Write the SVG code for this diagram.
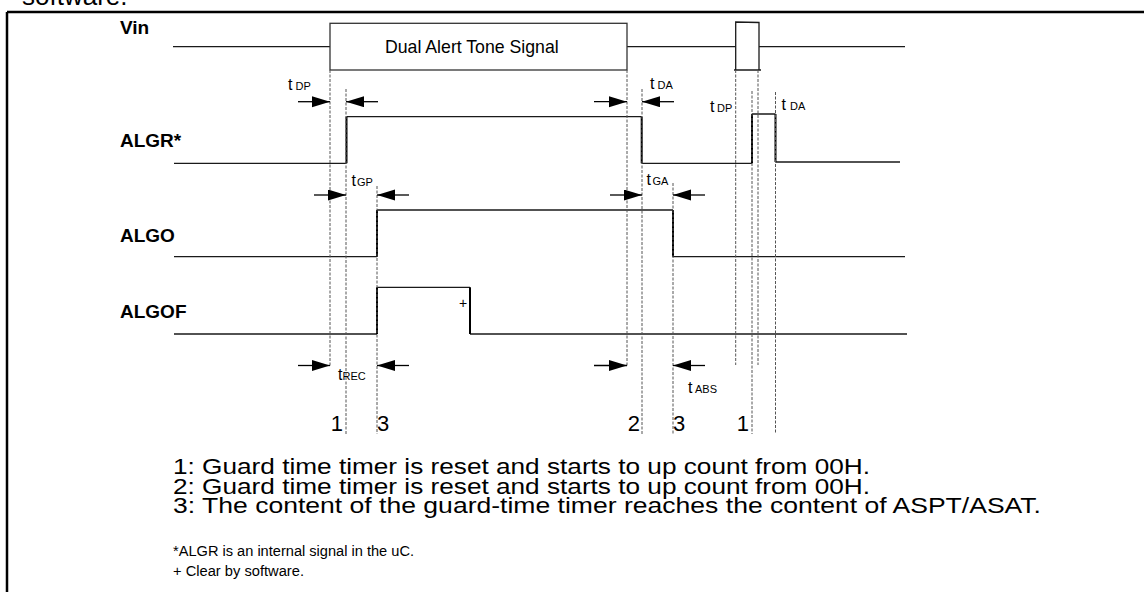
<svg xmlns="http://www.w3.org/2000/svg" width="1144" height="592" viewBox="0 0 1144 592">
<defs>
<marker id="ah" markerUnits="userSpaceOnUse" markerWidth="19" markerHeight="12" refX="18" refY="5.5" orient="auto">
<path d="M0,0 L18,5.5 L0,11 z" fill="#000"/>
</marker>
</defs>
<style>
.sig{fill:none;stroke:#1a1a1a;stroke-width:1.3}
.edge{fill:none;stroke:#000;stroke-width:2}
.dash{fill:none;stroke:#555;stroke-width:1;stroke-dasharray:3,1.5}
.arr{fill:none;stroke:#000;stroke-width:1.3;marker-end:url(#ah)}
.lbl{font-family:"Liberation Sans",Arial,sans-serif;font-weight:bold;font-size:19px;fill:#000}
.t{font-family:"Liberation Sans",Arial,sans-serif;font-size:16px;fill:#000}
.sub{font-size:11px}
.big{font-family:"Liberation Sans",Arial,sans-serif;font-size:26px;fill:#000}
.note{font-family:"Liberation Sans",Arial,sans-serif;font-size:22px;fill:#000}
.sm{font-family:"Liberation Sans",Arial,sans-serif;font-size:14px;fill:#000}
.box{font-family:"Liberation Sans",Arial,sans-serif;font-size:17.7px;fill:#000}
</style>
<rect width="1144" height="592" fill="#fff"/>
<text class="big" x="22" y="5">software.</text>
<path d="M7,12 H1144 M7,12 V592" fill="none" stroke="#000" stroke-width="2.5"/>

<g id="vin">
<text class="lbl" x="120" y="34">Vin</text>
<path class="sig" d="M173,46.7 H330 M627,46.7 H735.7 M759,46.7 H905"/>
<rect x="330" y="23.3" width="297" height="46.7" fill="none" stroke="#333" stroke-width="1.3"/>
<text class="box" x="385" y="52.7">Dual Alert Tone Signal</text>
<path class="sig" d="M735.7,70 V22 L759,22.5 V70 M734,70 H761"/>
</g>

<g id="algr">
<text class="lbl" x="120" y="147">ALGR*</text>
<path class="sig" d="M174,163.3 H346.5 M346.5,116.7 H641.7 M641.7,163.3 H752 M752,114 H775.5 M775.5,162 H900"/>
<path class="edge" d="M346.5,163.3 V116.7 M641.7,116.7 V163.3 M752,163.3 V114 M775.5,114 V162"/>
</g>

<g id="algo">
<text class="lbl" x="120" y="241.7">ALGO</text>
<path class="sig" d="M174,256.7 H377 M377,210 H673 M673,256.7 H905"/>
<path class="edge" d="M377,256.7 V210 M673,210 V256.7"/>
</g>

<g id="algof">
<text class="lbl" x="120" y="318.3">ALGOF</text>
<path class="sig" d="M174,334 H377 M377,287.3 H470 M470,334 H907"/>
<path class="edge" d="M377,334 V287.3 M470,287.3 V334"/>
<text class="sm" x="463" y="308" text-anchor="middle" font-size="13">+</text>
</g>

<g id="connectors">
<path class="dash" d="M330,70 V367 M346,89 V434 M377,186 V434 M627,70 V367 M642,89 V434 M673,183 V434 M735.7,70 V365 M752,91 V434 M758,70 V365 M775.5,92 V434"/>
<path class="arr" d="M298,101.7 H330"/>
<path class="arr" d="M378,101.7 H346"/>
<path class="arr" d="M594,101.7 H627"/>
<path class="arr" d="M674,101.7 H642"/>
<path class="arr" d="M314,195 H346"/>
<path class="arr" d="M409,195 H377"/>
<path class="arr" d="M610,195 H642"/>
<path class="arr" d="M705,195 H673"/>
<path class="arr" d="M298,365.5 H330"/>
<path class="arr" d="M409,365.5 H377"/>
<path class="arr" d="M594,365.5 H627"/>
<path class="arr" d="M705,365.5 H673"/>
</g>

<g id="timing-labels">
<text class="t" x="288" y="90">t<tspan class="sub" dx="3">DP</tspan></text>
<text class="t" x="650" y="89">t<tspan class="sub" dx="3">DA</tspan></text>
<text class="t" x="351.5" y="186">t<tspan class="sub" dx="1">GP</tspan></text>
<text class="t" x="646.5" y="185">t<tspan class="sub" dx="1.5">GA</tspan></text>
<text class="t" x="710" y="111.7">t<tspan class="sub" dx="2.5">DP</tspan></text>
<text class="t" x="781.5" y="110">t<tspan class="sub" dx="4">DA</tspan></text>
<text class="t" x="338" y="380">t<tspan class="sub" dx="0">REC</tspan></text>
<text class="t" x="688" y="393">t<tspan class="sub" dx="2.5">ABS</tspan></text>
</g>

<g id="markers">
<text class="note" x="343" y="431" text-anchor="end">1</text>
<text class="note" x="377" y="431">3</text>
<text class="note" x="640" y="431" text-anchor="end">2</text>
<text class="note" x="673" y="431">3</text>
<text class="note" x="749" y="431" text-anchor="end">1</text>
</g>

<g id="notes">
<text class="note" x="173" y="474" textLength="697" lengthAdjust="spacingAndGlyphs">1: Guard time timer is reset and starts to up count from 00H.</text>
<text class="note" x="173" y="493.5" textLength="697" lengthAdjust="spacingAndGlyphs">2: Guard time timer is reset and starts to up count from 00H.</text>
<text class="note" x="173" y="513" textLength="868" lengthAdjust="spacingAndGlyphs">3: The content of the guard-time timer reaches the content of ASPT/ASAT.</text>
<text class="sm" x="173" y="556" textLength="241" lengthAdjust="spacingAndGlyphs">*ALGR is an internal signal in the uC.</text>
<text class="sm" x="173" y="576" textLength="131" lengthAdjust="spacingAndGlyphs">+ Clear by software.</text>
</g>
</svg>
